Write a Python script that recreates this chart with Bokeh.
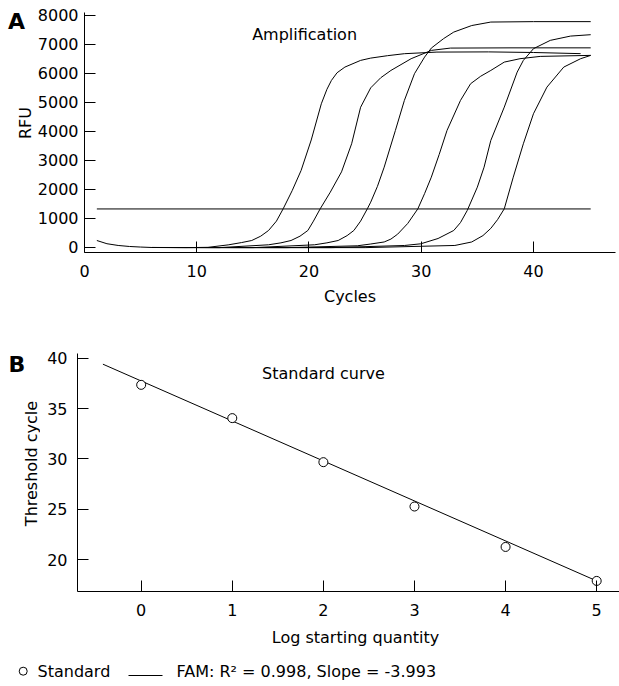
import math
from bokeh.plotting import figure
from bokeh.layouts import column, row
from bokeh.models import Range1d, FixedTicker, Label
from bokeh.embed import file_html
from bokeh.resources import INLINE
from bokeh.core.properties import value

FONT = "DejaVu Sans"

# ---------------- Panel A data (cycles, RFU) ----------------
a_cyc = [1.1, 2, 3, 4, 5, 6, 9, 11, 12.8, 14.0, 14.9, 15.7, 16.4, 17.1, 17.7, 18.5, 19.3, 20.2, 21.1, 21.6, 22.0, 22.5, 23.2, 24.6, 25.5, 27.0, 28.5, 31.4, 36.0, 40.0, 44.2]
a_rfu = [231, 120, 60, 25, 5, -10, -15, -5, 80, 160, 231, 380, 577, 900, 1325, 1950, 2650, 3700, 4950, 5450, 5756, 6020, 6216, 6447, 6526, 6610, 6678, 6734, 6740, 6720, 6680]

b_cyc = [6, 12, 16.4, 17.5, 18.4, 19.2, 19.9, 20.4, 21.0, 21.9, 22.9, 23.8, 24.6, 25.5, 26.4, 27.3, 29.1, 30.9, 32.6, 38, 45.1]
b_rfu = [-10, -15, 83, 150, 231, 380, 577, 900, 1325, 1900, 2600, 3570, 4830, 5500, 5850, 6100, 6505, 6792, 6872, 6880, 6880]

c_cyc = [6, 15, 20.5, 21.6, 22.6, 23.4, 24.0, 24.6, 25.2, 25.5, 26.1, 26.7, 27.7, 28.5, 29.4, 30.3, 30.9, 32.0, 32.9, 34.5, 36.2, 40, 45.1]
c_rfu = [-10, -15, 83, 150, 231, 400, 577, 900, 1325, 1554, 2100, 2762, 4030, 5066, 5988, 6561, 6872, 7200, 7424, 7650, 7770, 7785, 7785]

d_cyc = [6, 18, 24.3, 25.5, 26.7, 27.3, 27.9, 28.8, 29.7, 30.3, 30.9, 31.6, 32.3, 33.5, 34.4, 35.3, 36.2, 37.4, 38.8, 40.6, 45.1]
d_rfu = [-10, -15, 48, 110, 180, 280, 450, 820, 1325, 1850, 2417, 3200, 4030, 5066, 5642, 5900, 6100, 6388, 6505, 6585, 6620]

e_cyc = [6, 22, 28.5, 29.96, 31.5, 32.9, 33.5, 34.1, 35.0, 35.6, 36.2, 37.4, 38.55, 39.1, 40.0, 41.5, 43.3, 45.1]
e_rfu = [-10, -15, 59, 117, 300, 577, 850, 1267, 2072, 2762, 3684, 4834, 6043, 6447, 6851, 7138, 7286, 7334]

f_cyc = [6, 25, 33.0, 34.5, 35.5, 36.2, 36.8, 37.4, 38.2, 39.1, 40.0, 41.2, 42.7, 44.2, 45.1]
f_rfu = [-10, -15, 60, 180, 400, 650, 950, 1325, 2417, 3570, 4606, 5525, 6216, 6505, 6620]

threshold_cyc = [1.1, 45.1]
threshold_rfu = 1320

a_xticks = [0, 10, 20, 30, 40]
a_yticks = [0, 1000, 2000, 3000, 4000, 5000, 6000, 7000, 8000]

# ---------------- Panel B data ----------------
log_qty = [0, 1, 2, 3, 4, 5]
ct_vals = [37.35, 34.05, 29.68, 25.28, 21.27, 17.9]
fit_x = [-0.42, 5.0]
fit_y = [39.4, 17.9]
b_xticks = [0, 1, 2, 3, 4, 5]
b_yticks = [20, 25, 30, 35, 40]

legend_labels = ["Standard", "FAM: R\u00b2 = 0.998, Slope = -3.993"]


def style(p, xticks, yticks, xstand, ystand):
    p.xgrid.visible = False
    p.ygrid.visible = False
    p.outline_line_color = None
    p.xaxis.ticker = FixedTicker(ticks=xticks)
    p.yaxis.ticker = FixedTicker(ticks=yticks)
    p.xaxis.major_label_overrides = {t: str(t) for t in xticks}
    p.yaxis.major_label_overrides = {t: str(t) for t in yticks}
    for ax in (p.xaxis[0], p.yaxis[0]):
        ax.major_tick_in = 11
        ax.major_tick_out = 0
        ax.minor_tick_line_color = None
        ax.axis_line_color = "black"
        ax.major_tick_line_color = "black"
        ax.major_label_text_font = FONT
        ax.major_label_text_font_size = "16px"
        ax.major_label_text_color = "black"
        ax.axis_label_text_font = FONT
        ax.axis_label_text_font_size = "16px"
        ax.axis_label_text_font_style = "normal"
        ax.axis_label_text_color = "black"
    p.xaxis.major_label_standoff = xstand
    p.yaxis.major_label_standoff = ystand


def strip(w, h, top, bottom):
    # y data = -(page y); the frame of a strip is aligned with its row neighbour's frame
    s = figure(width=w, height=h, x_range=Range1d(0, w), y_range=Range1d(-bottom, -top),
               output_backend="svg", toolbar_location=None, title=None,
               min_border_left=0, min_border_right=0, min_border_top=0, min_border_bottom=0,
               x_axis_location=None, y_axis_location=None)
    s.xgrid.visible = False
    s.ygrid.visible = False
    s.outline_line_color = None
    return s


def stext(s, x, page_y, text, size="16px", bold=False, angle=0.0, align="center", lh=1.2):
    s.text([x], [-page_y], text=[text], text_font=value(FONT), text_font_size=size,
           text_font_style="bold" if bold else "normal", angle=angle, text_line_height=lh,
           text_align=align, text_baseline="middle", text_color="black")


# ---------------- Row 1: panel A ----------------
H1 = 322
L1W = 34
l1 = strip(L1W, H1, 12, 252)
stext(l1, 16, 20.5, "A", size="22px", bold=True)
stext(l1, 25, 122.5, "RFU", angle=math.pi / 2, lh=1.0)

p1 = figure(width=619 - L1W, height=H1, x_range=Range1d(0, 47.31), y_range=Range1d(-183, 8100),
            output_backend="svg", toolbar_location=None, title=None,
            min_border_left=82 - L1W, min_border_right=4, min_border_top=12, min_border_bottom=H1 - 252)
style(p1, a_xticks, a_yticks, 12, 6)
p1.xaxis.axis_label = "Cycles"
p1.xaxis.axis_label_standoff = 7

p1.line(threshold_cyc, [threshold_rfu, threshold_rfu], line_color="black", line_width=1)
for cx, ry in [(a_cyc, a_rfu), (b_cyc, b_rfu), (c_cyc, c_rfu), (d_cyc, d_rfu), (e_cyc, e_rfu), (f_cyc, f_rfu)]:
    p1.line(cx, ry, line_color="black", line_width=1)

# label centre at page y 33.5 -> RFU value through the panel scale
p1.add_layout(Label(x=19.61, y=8100 - (33.5 - 12) / 0.028975, text="Amplification", text_font=FONT,
                    text_font_size="16px", text_align="center", text_baseline="middle", text_color="black"))

# ---------------- Row 2: panel B ----------------
TOP2 = H1
H2 = 625 - TOP2
L2W = 40
l2 = strip(L2W, H2, 353, 591)
stext(l2, 16.5, 363.5, "B", size="22px", bold=True)
stext(l2, 30.5, 463, "Threshold cycle", angle=math.pi / 2, lh=1.0)

p2 = figure(width=619 - L2W, height=H2, x_range=Range1d(-0.699, 5.2505), y_range=Range1d(16.85, 40.46),
            output_backend="svg", toolbar_location=None, title=None,
            min_border_left=77 - L2W, min_border_right=0, min_border_top=353 - TOP2,
            min_border_bottom=H2 - (591 - TOP2))
style(p2, b_xticks, b_yticks, 12, 10)

p2.line(fit_x, fit_y, line_color="black", line_width=1)
p2.scatter(log_qty, ct_vals, marker="circle", size=9, fill_color="white", line_color="black", line_width=1)

p2.add_layout(Label(x=2.001, y=40.46 - (372.8 - 353) / 10.081, text="Standard curve", text_font=FONT,
                    text_font_size="16px", text_align="center", text_baseline="middle", text_color="black"))

# ---------------- Row 3: x label of B + legend ----------------
TOP3 = 625
H3 = 684 - TOP3
p3 = strip(619, H3, TOP3, 684)
stext(p3, 355, 637, "Log starting quantity")
p3.scatter([22.7], [-670.7], marker="circle", size=8, fill_color="white",
           line_color="black", line_width=1)
p3.line([128, 162], [-675, -675], line_color="black", line_width=1)
p3.text([37, 176], [-671, -671], text=legend_labels, text_font=value(FONT),
        text_font_size="16px", text_baseline="middle", text_align="left", text_color="black")

layout = column(row(l1, p1, spacing=0), row(l2, p2, spacing=0), p3, spacing=0)
open("out.html", "w").write(file_html(layout, INLINE))
